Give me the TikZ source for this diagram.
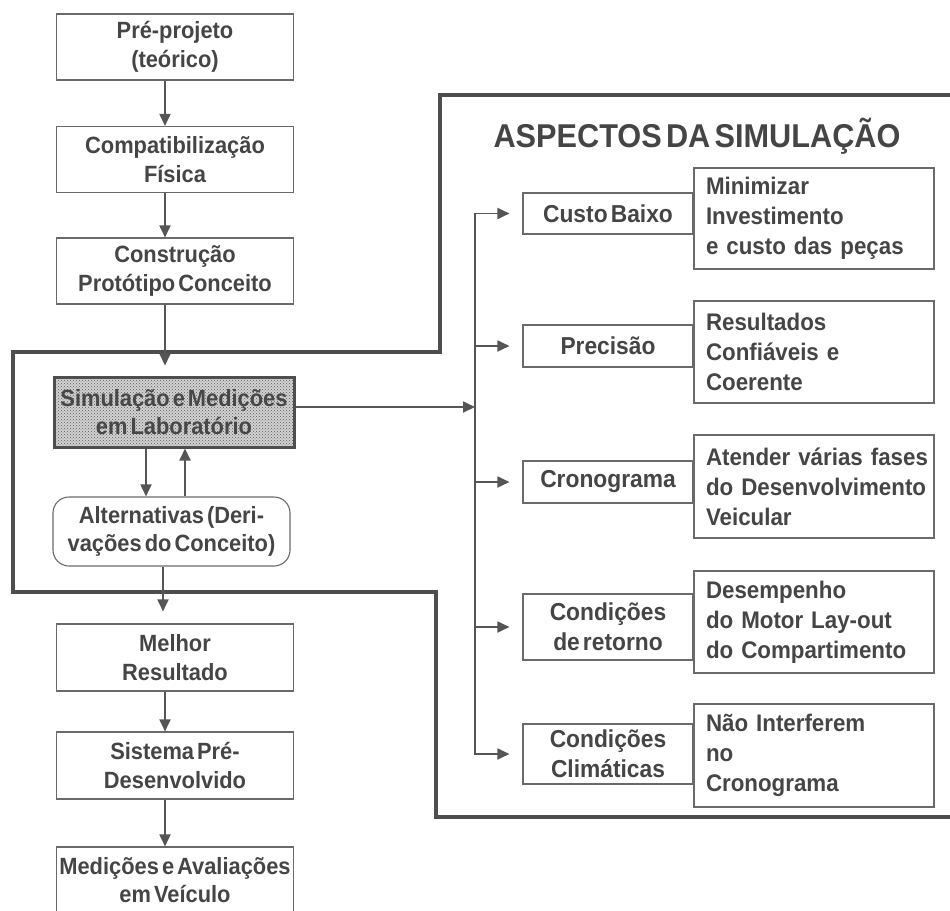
\documentclass[tikz,border=0pt]{standalone}
\usepackage{fontspec}
\setmainfont{Liberation Sans}[WordSpace=0.5, FakeStretch=0.93]
\usetikzlibrary{arrows.meta,patterns}
\definecolor{framec}{HTML}{4E4E4E}
\definecolor{boxc}{HTML}{6A6A6A}
\definecolor{txt}{HTML}{454545}
\definecolor{arr}{HTML}{555555}
\begin{document}
\begin{tikzpicture}[x=1pt,y=-1pt,
  box/.style={draw=boxc, line width=1.1pt, align=center, text=txt, inner sep=0pt,
              font=\fontsize{23.5}{28.5}\selectfont\bfseries},
  lbox/.style={box, minimum width=237pt, minimum height=66pt},
  mbox/.style={box, minimum width=170pt, font=\fontsize{24.5}{30}\selectfont\bfseries},
  dbox/.style={box, text width=216pt, align=left, inner xsep=12pt, inner ysep=0pt,
               font=\fontsize{24}{30}\selectfont\bfseries},
  conn/.style={draw=arr, line width=1.8pt, -{Triangle[length=12pt,width=11pt]}},
  trunkline/.style={draw=arr, line width=1.8pt, line cap=rect},
  framel/.style={draw=framec, line width=4.5pt, line join=miter},
]
\useasboundingbox (0,0) rectangle (950,910);
\clip (0,0) rectangle (950,910);

% frame
\draw[framel] (960,95) -- (440,95) -- (440,352) -- (13,352) -- (13,592)
  -- (436,592) -- (436,817) -- (960,817);

% left column
\node[lbox] (pre)  at (175,47)    {Pré-projeto\\(teórico)};
\node[lbox] (comp) at (175,159.5) {Compatibilização\\Física};
\node[lbox] (cons) at (175,271)   {Construção\\Protótipo Conceito};
\node[box, minimum width=240pt, minimum height=70pt, line width=3pt, draw=framec,
      preaction={fill=gray!35}, pattern=crosshatch dots, pattern color=gray!70!black,
      text=black!72] (sim) at (174,412) {Simulação e Medições\\em Laboratório};
\node[box, minimum width=237pt, minimum height=69pt, rounded corners=16pt]
      (alt) at (171.5,531.5) {Alternativas (Deri-\\vações do Conceito)};
\node[lbox, minimum height=67pt] (mel) at (175,657.5) {Melhor\\Resultado};
\node[lbox, minimum height=67pt] (sis) at (175,765.5) {Sistema Pré-\\Desenvolvido};
\node[lbox] (med) at (175,880) {Medições e Avaliações\\em Veículo};

\coordinate (ax) at (165,0);
\coordinate (axd) at (146,0);
\coordinate (axu) at (185,0);
\coordinate (axa) at (163,0);
\draw[conn] (pre.south -| ax) -- (comp.north -| ax);
\draw[conn] (comp.south -| ax) -- (cons.north -| ax);
\draw[conn, shorten >=10pt] (cons.south -| ax) -- (sim.north -| ax);
\draw[conn] (sim.south -| axd) -- (alt.north -| axd);
\draw[conn] (alt.north -| axu) -- (sim.south -| axu);
\draw[conn, shorten >=12pt] (alt.south -| axa) -- (mel.north -| axa);
\draw[conn] (mel.south -| ax) -- (sis.north -| ax);
\draw[conn] (sis.south -| ax) -- (med.north -| ax);

% right part
\node[anchor=base, text=txt, font=\fontsize{33}{33}\selectfont\bfseries]
  (title) at (697,147) {ASPECTOS DA SIMULAÇÃO};

\node[mbox, minimum height=41pt] (custo) at (608,213.5) {Custo Baixo};
\node[mbox, minimum height=42pt] (prec)  at (608,346)   {Precisão};
\node[mbox, minimum height=42pt] (cron)  at (608,482)   {Cronograma};
\node[mbox, minimum height=66pt] (ret)   at (608,627)   {Condições\\de retorno};
\node[mbox, minimum height=60pt] (clim)  at (608,754)   {Condições\\Climáticas};

\node[dbox, minimum height=101pt] (d1) at (814,218.5)
  {\mbox{Minimizar}\\\mbox{Investimento}\\\mbox{e custo das peças}};
\node[dbox, minimum height=102pt] (d2) at (814,352)
  {\mbox{Resultados}\\\mbox{Confiáveis e}\\\mbox{Coerente}};
\node[dbox, minimum height=103pt] (d3) at (814,486.5)
  {\mbox{Atender várias fases}\\\mbox{do Desenvolvimento}\\\mbox{Veicular}};
\node[dbox, minimum height=102pt] (d4) at (814,622)
  {\mbox{Desempenho}\\\mbox{do Motor Lay-out}\\\mbox{do Compartimento}};
\node[dbox, minimum height=103pt] (d5) at (814,755.5)
  {\mbox{Não Interferem}\\\mbox{no}\\\mbox{Cronograma}};

\coordinate (tr) at (475,407);
\draw[conn] (sim.east |- tr) -- (tr);
\draw[trunkline] (custo.west -| tr) -- (clim.west -| tr);
\foreach \b in {custo,prec,cron,ret,clim}
  \draw[conn, shorten >=13pt] (\b.west -| tr) -- (\b.west);
\end{tikzpicture}
\end{document}
